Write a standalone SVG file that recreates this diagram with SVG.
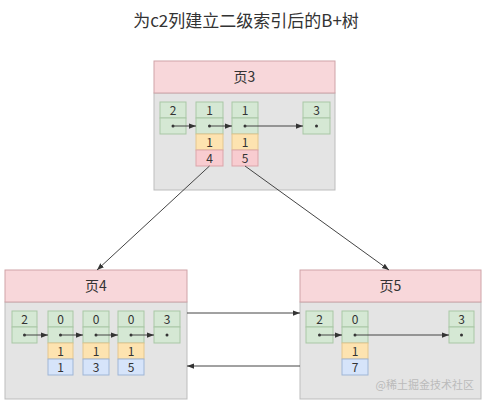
<svg xmlns="http://www.w3.org/2000/svg" width="486" height="403" viewBox="0 0 486 403">
<defs>
<style>
text{font-family:"Noto Sans CJK SC","Liberation Sans",sans-serif;fill:#333;text-anchor:middle}
.title{font-size:17px}
.hd{fill:#f8d7da;stroke:#cfa3a8;stroke-width:1}
.bd{fill:#e4e4e4;stroke:#bdbdbd;stroke-width:1}
.g{fill:#d5e8d4;stroke:#a9c7a6;stroke-width:1}
.y{fill:#fde3b0;stroke:#e3c68e;stroke-width:1}
.p{fill:#f8ccd0;stroke:#dba5aa;stroke-width:1}
.b{fill:#d6e4fa;stroke:#9fb6d6;stroke-width:1}
.ht{font-size:14px}
.ct{font-size:12px}
.ln{stroke:#444;stroke-width:1;fill:none}
.dot{fill:#333}
.wm{font-size:11px;fill:#bbb;text-anchor:end}
</style>
<marker id="ah" viewBox="0 0 8 8" refX="8" refY="4" markerWidth="7" markerHeight="7" orient="auto" markerUnits="userSpaceOnUse">
<path d="M0,1 L8,4 L0,7 Z" fill="#333"/>
</marker>
</defs>
<rect width="486" height="403" fill="#fff"/>
<text class="title" x="246" y="27">为c2列建立二级索引后的B+树</text>

<g id="page3">
<rect class="bd" x="154" y="93" width="181" height="97"/>
<rect class="hd" x="154" y="61" width="181" height="32"/>
<text class="ht" x="244.5" y="82">页3</text>
<rect class="g" x="160" y="102" width="26" height="16"/><rect class="g" x="160" y="118" width="26" height="16"/>
<text class="ct" x="173" y="114.5">2</text><circle class="dot" cx="173" cy="126" r="1.5"/>
<rect class="g" x="196" y="102" width="27" height="16"/><rect class="g" x="196" y="118" width="27" height="16"/>
<rect class="y" x="196" y="134" width="27" height="16"/><rect class="p" x="196" y="150" width="27" height="16"/>
<text class="ct" x="209.5" y="114.5">1</text><circle class="dot" cx="209.5" cy="126" r="1.5"/>
<text class="ct" x="209.5" y="146.5">1</text><text class="ct" x="209.5" y="162.5">4</text>
<rect class="g" x="232" y="102" width="26" height="16"/><rect class="g" x="232" y="118" width="26" height="16"/>
<rect class="y" x="232" y="134" width="26" height="16"/><rect class="p" x="232" y="150" width="26" height="16"/>
<text class="ct" x="245" y="114.5">1</text><circle class="dot" cx="245" cy="126" r="1.5"/>
<text class="ct" x="245" y="146.5">1</text><text class="ct" x="245" y="162.5">5</text>
<rect class="g" x="303" y="102" width="27" height="16"/><rect class="g" x="303" y="118" width="27" height="16"/>
<text class="ct" x="316.5" y="114.5">3</text><circle class="dot" cx="316.5" cy="126" r="1.5"/>
<line class="ln" x1="173" y1="126" x2="196" y2="126" marker-end="url(#ah)"/>
<line class="ln" x1="209.5" y1="126" x2="232" y2="126" marker-end="url(#ah)"/>
<line class="ln" x1="245" y1="126" x2="303" y2="126" marker-end="url(#ah)"/>
</g>

<g id="page4">
<rect class="bd" x="5" y="302" width="182" height="97"/>
<rect class="hd" x="5" y="270" width="182" height="32"/>
<text class="ht" x="96" y="291">页4</text>
<rect class="g" x="12" y="311" width="25" height="16"/><rect class="g" x="12" y="327" width="25" height="16"/>
<text class="ct" x="24.5" y="323.5">2</text><circle class="dot" cx="24.5" cy="335" r="1.5"/>
<rect class="g" x="48" y="311" width="25" height="16"/><rect class="g" x="48" y="327" width="25" height="16"/>
<rect class="y" x="48" y="343" width="25" height="16"/><rect class="b" x="48" y="359" width="25" height="16"/>
<text class="ct" x="60.5" y="323.5">0</text><circle class="dot" cx="60.5" cy="335" r="1.5"/>
<text class="ct" x="60.5" y="355.5">1</text><text class="ct" x="60.5" y="371.5">1</text>
<rect class="g" x="83" y="311" width="26" height="16"/><rect class="g" x="83" y="327" width="26" height="16"/>
<rect class="y" x="83" y="343" width="26" height="16"/><rect class="b" x="83" y="359" width="26" height="16"/>
<text class="ct" x="96" y="323.5">0</text><circle class="dot" cx="96" cy="335" r="1.5"/>
<text class="ct" x="96" y="355.5">1</text><text class="ct" x="96" y="371.5">3</text>
<rect class="g" x="118" y="311" width="26" height="16"/><rect class="g" x="118" y="327" width="26" height="16"/>
<rect class="y" x="118" y="343" width="26" height="16"/><rect class="b" x="118" y="359" width="26" height="16"/>
<text class="ct" x="131" y="323.5">0</text><circle class="dot" cx="131" cy="335" r="1.5"/>
<text class="ct" x="131" y="355.5">1</text><text class="ct" x="131" y="371.5">5</text>
<rect class="g" x="154" y="311" width="26" height="16"/><rect class="g" x="154" y="327" width="26" height="16"/>
<text class="ct" x="167" y="323.5">3</text><circle class="dot" cx="167" cy="335" r="1.5"/>
<line class="ln" x1="24.5" y1="335" x2="48" y2="335" marker-end="url(#ah)"/>
<line class="ln" x1="60.5" y1="335" x2="83" y2="335" marker-end="url(#ah)"/>
<line class="ln" x1="96" y1="335" x2="118" y2="335" marker-end="url(#ah)"/>
<line class="ln" x1="131" y1="335" x2="154" y2="335" marker-end="url(#ah)"/>
</g>

<g id="page5">
<rect class="bd" x="300" y="302" width="181" height="97"/>
<rect class="hd" x="300" y="270" width="181" height="32"/>
<text class="ht" x="390.5" y="291">页5</text>
<rect class="g" x="306" y="311" width="27" height="16"/><rect class="g" x="306" y="327" width="27" height="16"/>
<text class="ct" x="319.5" y="323.5">2</text><circle class="dot" cx="319.5" cy="335" r="1.5"/>
<rect class="g" x="342" y="311" width="26" height="16"/><rect class="g" x="342" y="327" width="26" height="16"/>
<rect class="y" x="342" y="343" width="26" height="16"/><rect class="b" x="342" y="359" width="26" height="16"/>
<text class="ct" x="355" y="323.5">0</text><circle class="dot" cx="355" cy="335" r="1.5"/>
<text class="ct" x="355" y="355.5">1</text><text class="ct" x="355" y="371.5">7</text>
<rect class="g" x="449" y="311" width="25" height="16"/><rect class="g" x="449" y="327" width="25" height="16"/>
<text class="ct" x="461.5" y="323.5">3</text><circle class="dot" cx="461.5" cy="335" r="1.5"/>
<line class="ln" x1="319.5" y1="335" x2="342" y2="335" marker-end="url(#ah)"/>
<line class="ln" x1="355" y1="335" x2="449" y2="335" marker-end="url(#ah)"/>
<text class="wm" x="474" y="389">@稀土掘金技术社区</text>
</g>

<g id="connectors">
<line class="ln" x1="209.5" y1="166" x2="97" y2="270" marker-end="url(#ah)"/>
<line class="ln" x1="245" y1="166" x2="389" y2="270" marker-end="url(#ah)"/>
<line class="ln" x1="187" y1="313" x2="300" y2="313" marker-end="url(#ah)"/>
<line class="ln" x1="300" y1="366" x2="187" y2="366" marker-end="url(#ah)"/>
</g>
</svg>
